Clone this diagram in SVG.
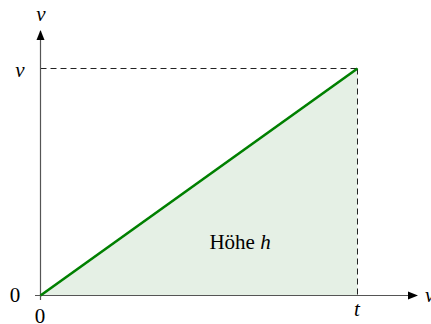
<svg xmlns="http://www.w3.org/2000/svg" width="431" height="324" viewBox="0 0 431 324">
<defs>
<style>
.ax{stroke:#555;stroke-width:1.2;fill:none}
.dash{stroke:#222;stroke-width:1;stroke-dasharray:6,4;fill:none}
.t{font-family:"Liberation Serif","DejaVu Serif",serif;font-size:21px;fill:#000}
.i{font-style:italic}
</style>
<marker id="arr" viewBox="0 0 10 10" refX="9" refY="5" markerWidth="10" markerHeight="10" markerUnits="userSpaceOnUse" orient="auto">
<path d="M0,1 L10,5 L0,9 Z" fill="#000"/>
</marker>
</defs>
<rect width="431" height="324" fill="#fff"/>
<g id="area">
<polygon points="40.5,295.5 357.5,68.5 357.5,295.5" fill="#e5f0e5"/>
</g>
<g id="connectors">
<line class="dash" x1="40.5" y1="68.5" x2="357.5" y2="68.5"/>
<line class="dash" x1="357.5" y1="68.5" x2="357.5" y2="295.5"/>
<line class="ax" x1="40.5" y1="300" x2="40.5" y2="31" marker-end="url(#arr)"/>
<line class="ax" x1="35" y1="295.5" x2="417" y2="295.5" marker-end="url(#arr)"/>
<line x1="40.5" y1="295.5" x2="357.5" y2="68.5" stroke="#008000" stroke-width="2.6"/>
</g>
<g id="labels">
<text class="t i" x="41" y="21" text-anchor="middle">v</text>
<text class="t i" x="20" y="77" text-anchor="middle">v</text>
<text class="t" x="15" y="302" text-anchor="middle">0</text>
<text class="t" x="40" y="323" text-anchor="middle">0</text>
<text class="t i" x="357" y="316" text-anchor="middle">t</text>
<text class="t i" x="425" y="302">v</text>
<text class="t" x="240" y="249" text-anchor="middle">Höhe <tspan class="i">h</tspan></text>
</g>
</svg>
